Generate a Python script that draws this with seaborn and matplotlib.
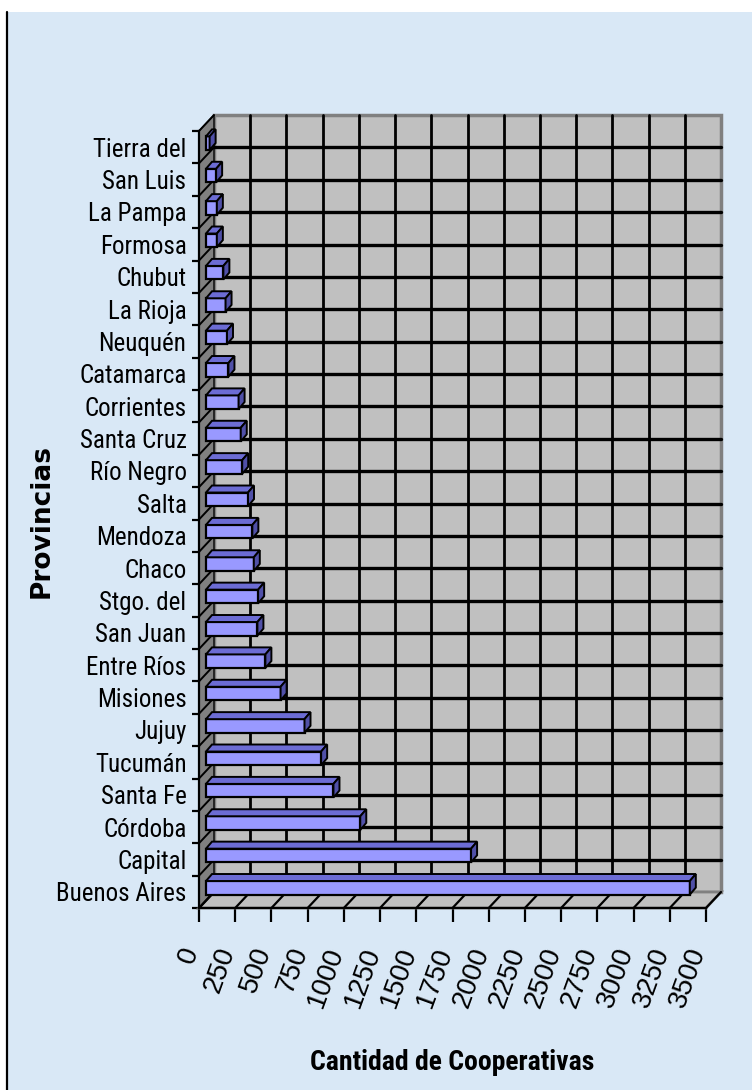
import matplotlib
matplotlib.use("Agg")
import matplotlib.pyplot as plt
import seaborn as sns
import pandas as pd
import numpy as np
from matplotlib.patches import Polygon, Rectangle
from matplotlib.lines import Line2D
from matplotlib.transforms import ScaledTranslation
from matplotlib import font_manager
from matplotlib.font_manager import FontProperties

sns.set_style("ticks")
plt.rcParams["font.family"] = ["Liberation Sans", "DejaVu Sans"]
plt.rcParams["text.color"] = "black"


def find_narrow(bold=False):
    # narrowest installed face we know of, else any condensed one
    fonts = []
    for f in font_manager.fontManager.ttflist:
        w = f.weight if isinstance(f.weight, int) else (700 if f.weight == "bold" else 400)
        if f.style != "normal" or (w >= 600) != bold:
            continue
        if bold is False and w < 350:
            continue
        fonts.append(f)
    for key in ["Liberation Sans Narrow", "Roboto Condensed", "Open Sans Condensed",
                "Noto Sans Condensed", "Narrow", "Condensed"]:
        for f in fonts:
            if key in f.name or (key == "Condensed" and f.stretch in ("condensed", "semi-condensed")):
                return f.fname, f.name
    return None, None


NARROW, NARROW_NAME = find_narrow(False)
NARROW_B, NARROW_B_NAME = find_narrow(True)

# data, top row first
provincias = ["Tierra del", "San Luis", "La Pampa", "Formosa", "Chubut", "La Rioja",
              "Neuquén", "Catamarca", "Corrientes", "Santa Cruz", "Río Negro", "Salta",
              "Mendoza", "Chaco", "Stgo. del", "San Juan", "Entre Ríos", "Misiones",
              "Jujuy", "Tucumán", "Santa Fe", "Córdoba", "Capital", "Buenos Aires"]
cooperativas = [25, 70, 75, 75, 120, 135,
                145, 155, 225, 240, 250, 290,
                320, 330, 360, 355, 410, 515,
                680, 795, 880, 1065, 1830, 3340]
x_ticks = [0, 250, 500, 750, 1000, 1250, 1500, 1750, 2000, 2250, 2500, 2750, 3000, 3250, 3500]

# DejaVu condensed is wider than Arial Narrow, so shrink it a bit
dv = NARROW_NAME is not None and "DejaVu" in NARROW_NAME
if NARROW:
    ylab_font = FontProperties(fname=NARROW, size=16 if dv else 18)
else:
    ylab_font = FontProperties(family="Liberation Sans", size=15.5)
dvb = NARROW_B_NAME is not None and "DejaVu" in NARROW_B_NAME
if NARROW_B:
    xlab_font = FontProperties(fname=NARROW_B, size=16 if dvb else 20)
else:
    xlab_font = FontProperties(family="Liberation Sans", weight="bold", size=16)

W, H = 752, 1090
fig = plt.figure(figsize=(W / 100, H / 100), dpi=100, facecolor="white")
fig.patches.append(Rectangle((8 / W, 0), 1 - 8 / W, 1 - 12 / H, transform=fig.transFigure,
                             facecolor="#d9e8f6", edgecolor="none", zorder=-10))
fig.add_artist(Line2D([7 / W, 7 / W], [0, 1 - 12 / H], color="black", lw=1.6,
                      transform=fig.transFigure))

# axes = front plane of the 3d box
ax = fig.add_axes([199 / W, 1 - 908 / H, 507 / W, 777 / H])
ax.patch.set_visible(False)

df = pd.DataFrame({"Provincia": provincias, "Cooperativas": cooperativas})
sns.barplot(data=df, x="Cooperativas", y="Provincia", order=provincias, orient="h",
            color="#9999ff", saturation=1, edgecolor="black", linewidth=1.6,
            width=0.42, ax=ax, zorder=3)
bars = list(ax.containers[0])

n = len(provincias)
ax.set_xlim(0, 3500)
ax.set_ylim(n - 0.5, -0.5)

px_x = 507 / 3500
px_y = 777 / n


def shift(dx, dy_up):
    return dx / px_x, -dy_up / px_y


# back wall, floor and left wall
wx, wy = shift(15, 16)
ax.add_patch(Rectangle((wx, -0.5 + wy), 3500, n, facecolor="#c0c0c0", edgecolor="#808080",
                       lw=2.5, zorder=0.5, clip_on=False))
for t in x_ticks[1:-1]:
    ax.plot([t + wx, t + wx], [-0.5 + wy, n - 0.5 + wy], color="black", lw=2,
            zorder=0.6, clip_on=False)
for k in range(1, n):
    ax.plot([wx, 3500 + wx], [k - 0.5 + wy, k - 0.5 + wy], color="black", lw=2.4,
            zorder=0.6, clip_on=False)

yb = n - 0.5
ax.add_patch(Polygon([(0, yb), (3500, yb), (3500 + wx, yb + wy), (wx, yb + wy)],
                     closed=True, facecolor="#c0c0c0", edgecolor="#808080", lw=2,
                     zorder=0.7, clip_on=False))
for t in x_ticks:
    ax.plot([t, t + wx], [yb, yb + wy], color="black", lw=1.6, zorder=0.8, clip_on=False)

ax.add_patch(Polygon([(0, -0.5), (0, yb), (wx, yb + wy), (wx, -0.5 + wy)],
                     closed=True, facecolor="#808080", edgecolor="black", lw=1,
                     zorder=0.7, clip_on=False))
for k in range(n + 1):
    ax.plot([0, wx], [k - 0.5, k - 0.5 + wy], color="black", lw=1.4, zorder=0.8, clip_on=False)

# 3d bars: move front face into the box, then add top and side faces
bx, by = shift(7, 4)
ex, ey = shift(6, 7)
for p in bars:
    p.set_x(p.get_x() + bx)
    p.set_y(p.get_y() + by)
    x0 = p.get_x()
    x1 = x0 + p.get_width()
    yt = p.get_y()
    yl = yt + p.get_height()
    ax.add_patch(Polygon([(x0, yt), (x1, yt), (x1 + ex, yt + ey), (x0 + ex, yt + ey)],
                         closed=True, facecolor="#6c6cd4", edgecolor="black", lw=1.4,
                         zorder=3, clip_on=False))
    ax.add_patch(Polygon([(x1, yt), (x1, yl), (x1 + ex, yl + ey), (x1 + ex, yt + ey)],
                         closed=True, facecolor="#5050a8", edgecolor="black", lw=1.4,
                         zorder=3, clip_on=False))

# axes styling
for s in ["top", "right"]:
    ax.spines[s].set_visible(False)
for s in ["left", "bottom"]:
    ax.spines[s].set_color("black")
    ax.spines[s].set_linewidth(1.6)
    ax.spines[s].set_zorder(4)

ax.set_xlabel("")
ax.set_ylabel("")
ax.set_yticks(range(n))
ax.set_yticklabels(provincias, color="black")
for lbl in ax.get_yticklabels():
    lbl.set_fontproperties(ylab_font)
ax.set_yticks(np.arange(-0.5, n, 1), minor=True)
ax.tick_params(axis="y", which="major", left=True, length=0, pad=9)
ax.tick_params(axis="y", which="minor", left=True, length=5, width=1.6, direction="out",
               color="black")

ax.set_xticks(x_ticks)
ax.set_xticklabels([str(t) for t in x_ticks], rotation=70, rotation_mode="anchor",
                   ha="right", va="center", fontsize=20, family="Liberation Sans",
                   color="black")
ax.tick_params(axis="x", bottom=True, direction="out", length=10, width=1.6, pad=19,
               color="black")
off = ScaledTranslation(-7 / 100, 0, fig.dpi_scale_trans)
for lbl in ax.get_xticklabels():
    lbl.set_transform(lbl.get_transform() + off)

fig.text(42 / W, 1 - 521 / H, "Provincias", rotation=90, ha="center", va="center",
         fontsize=19, fontweight="bold", family="DejaVu Sans", color="black")
fig.text(452 / W, 1 - 1062 / H, "Cantidad de Cooperativas", ha="center", va="center",
         fontproperties=xlab_font, color="black")

fig.savefig("out.png", dpi=100, facecolor=fig.get_facecolor())
